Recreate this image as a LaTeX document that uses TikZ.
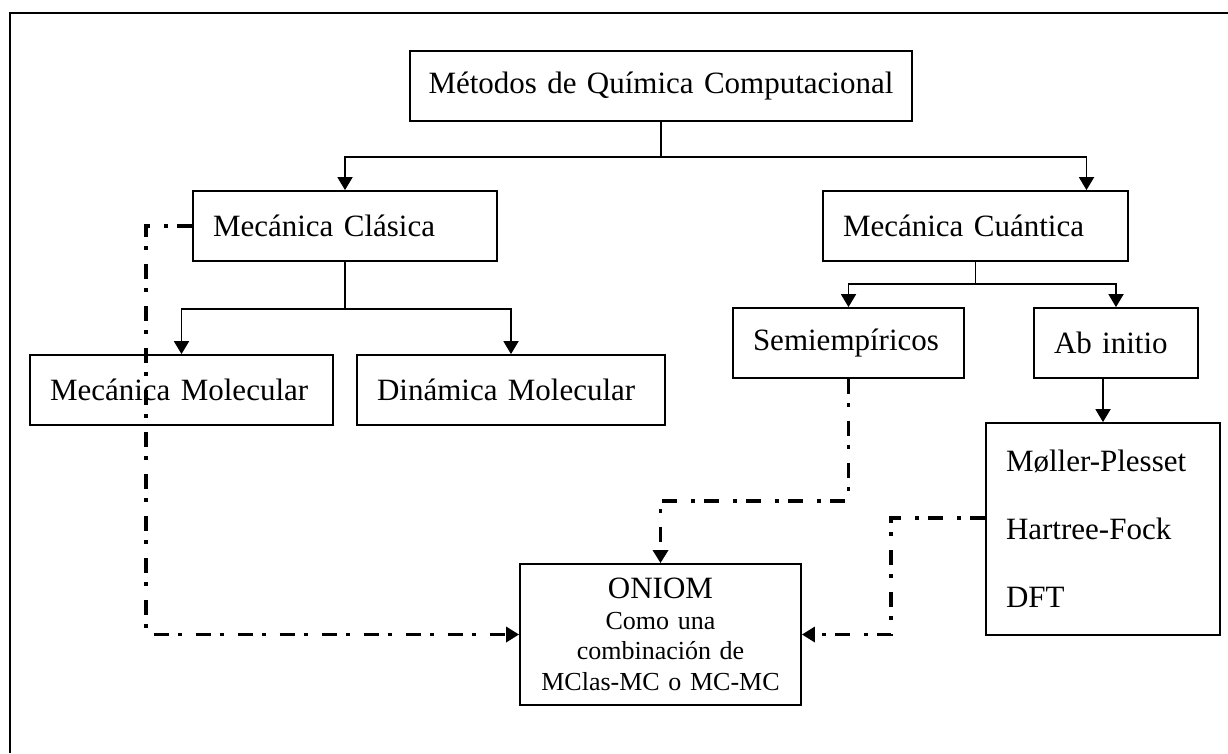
\documentclass[tikz,border=0pt]{standalone}
\usepackage{fontspec}
\setmainfont{Liberation Serif}
\usetikzlibrary{arrows.meta,positioning,calc}

\begin{document}
\begin{tikzpicture}[
    >={Triangle[length=13pt,width=15pt]},
    x=1pt, y=-1pt,
    metodo/.style={draw,line width=1.8pt,inner xsep=20pt,inner ysep=0pt,
                   minimum height=70pt,align=left,
                   font=\fontsize{31}{36}\selectfont},
    rama/.style={->,line width=1.8pt},
    enlace/.style={->,line width=3.3pt,
                   dash pattern=on 15pt off 9pt on 4pt off 14pt},
  ]
  \useasboundingbox (0,0) rectangle (1228,753);

  % --- marco ---
  \draw[line width=2.5pt] (10,753) -- (10,13) -- (1228,13);

  % --- raiz y dos ramas ---
  \node[metodo,inner xsep=6pt,text width=490pt,align=center] (titulo)
        at (661,86) {Métodos de Química Computacional};
  \node[metodo,text width=264pt] (clasica)  at (345,226)   {Mecánica Clásica};
  \node[metodo,text width=265pt] (cuantica) at (975.5,226) {Mecánica Cuántica};

  % --- mecanica clasica ---
  \node[metodo,text width=263pt] (molecular) at (181.5,390) {Mecánica Molecular};
  \node[metodo,text width=268pt] (dinamica)  at (511,390)   {Dinámica Molecular};

  % --- mecanica cuantica ---
  \node[metodo,text width=191pt] (semi)     at (848.5,343) {Semiempíricos};
  \node[metodo,text width=124pt] (abinitio) at (1116,343)  {Ab initio};
  \node[metodo,text width=194pt,minimum height=212pt,
        font=\fontsize{31}{68}\selectfont] (mp) at (1103,529)
        {Møller-Plesset\\Hartree-Fock\\DFT};

  % --- hibrido ---
  \node[metodo,inner xsep=6pt,text width=269pt,minimum height=141pt,
        align=center,font=\fontsize{26}{30.5}\selectfont] (oniom)
        at (660.5,634.5)
        {{\fontsize{31}{33}\selectfont ONIOM}\\Como una\\combinación de\\MClas-MC o MC-MC};

  % --- ramas del arbol ---
  \coordinate (cruce1) at ($(titulo.south)+(0,35)$);
  \draw[line width=1.8pt] (titulo.south) -- (cruce1);
  \draw[rama] (cruce1) -| (clasica.north);
  \draw[rama] (cruce1) -| ([xshift=111pt]cuantica.north);

  \coordinate (cruce2) at ($(clasica.south)+(0,47)$);
  \draw[line width=1.8pt] (clasica.south) -- (cruce2);
  \draw[rama] (cruce2) -| (molecular.north);
  \draw[rama] (cruce2) -| (dinamica.north);

  \coordinate (cruce3) at ($(cuantica.south)+(0,22)$);
  \draw[line width=1.8pt] (cuantica.south) -- (cruce3);
  \draw[rama] (cruce3) -| (semi.north);
  \draw[rama] (cruce3) -| (abinitio.north);

  \draw[rama] (abinitio.south -| mp.north) -- (mp.north);

  % --- enlaces hacia ONIOM ---
  \draw[enlace] (clasica.west) -- ++(-46,0) |- (oniom.west);
  \draw[enlace] (semi.south) -- ++(0,122) -| (oniom.north);
  \draw[enlace] ([yshift=11pt]mp.west) -- ++(-94,0) |- (oniom.east);

\end{tikzpicture}
\end{document}
